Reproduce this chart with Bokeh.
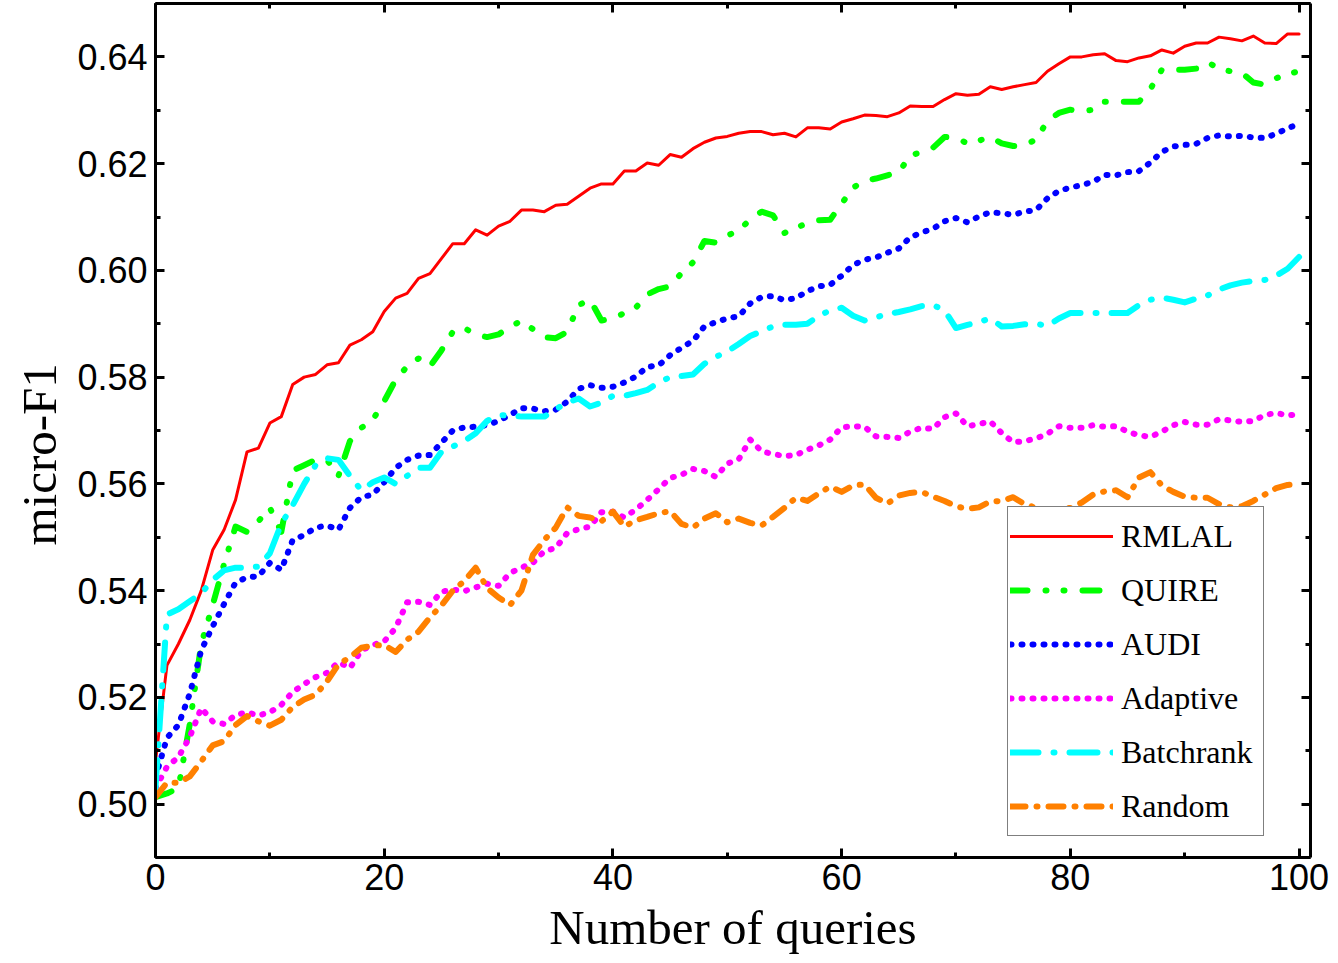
import math
from bokeh.plotting import figure
from bokeh.models import (Range1d, LinearAxis, SingleIntervalTicker, NumeralTickFormatter,
                          Legend, LegendItem, CustomJSTickFormatter, Title)
from bokeh.embed import file_html
from bokeh.resources import INLINE

queries = list(range(0, 101))

rmlal = [0.508, 0.526, 0.530, 0.5345, 0.540, 0.5476, 0.5514, 0.557, 0.566, 0.5667,
         0.5714, 0.5726, 0.5786, 0.580, 0.5805, 0.5823, 0.5827, 0.586, 0.587, 0.5885,
         0.5923, 0.5948, 0.5957, 0.5985, 0.5994, 0.6022, 0.605, 0.605, 0.6076, 0.6066,
         0.6083, 0.6092, 0.6113, 0.6113, 0.611, 0.6122, 0.6124, 0.6139, 0.6154, 0.6162,
         0.6162, 0.6186, 0.6186, 0.6201, 0.6197, 0.6217, 0.6212, 0.6228, 0.624, 0.6248,
         0.6251, 0.6257, 0.626, 0.626, 0.6254, 0.6257, 0.625, 0.6267, 0.6267, 0.6265,
         0.6278, 0.6284, 0.6291, 0.629, 0.6288, 0.6295, 0.6308, 0.6307, 0.6307, 0.632,
         0.6331, 0.6328, 0.633, 0.6344, 0.6339, 0.6344, 0.6348, 0.6352, 0.6373, 0.6387,
         0.640, 0.640, 0.6404, 0.6406, 0.6393, 0.6391, 0.6398, 0.6402, 0.6413, 0.6407,
         0.642, 0.6426, 0.6426, 0.6437, 0.6434, 0.643, 0.6439, 0.6426, 0.6425, 0.6443,
         0.6443]

quire = [0.5013, 0.502, 0.503, 0.515, 0.530, 0.5373, 0.545, 0.552, 0.551, 0.553,
         0.5555, 0.551, 0.5625, 0.5635, 0.5645, 0.5645, 0.5615, 0.568, 0.5705, 0.572,
         0.5755, 0.5795, 0.582, 0.5835, 0.582, 0.585, 0.5885, 0.5892, 0.588, 0.5875,
         0.588, 0.5895, 0.5905, 0.589, 0.5875, 0.5873, 0.5885, 0.5935, 0.5945, 0.5906,
         0.591, 0.592, 0.593, 0.5955, 0.5965, 0.597, 0.5995, 0.6015, 0.6055, 0.6052,
         0.6065, 0.6075, 0.6095, 0.611, 0.6103, 0.607, 0.608, 0.6088, 0.6094, 0.6095,
         0.6125, 0.6155, 0.6168, 0.6172, 0.6178, 0.6184, 0.6215, 0.6222, 0.623, 0.625,
         0.6248, 0.6238, 0.6243, 0.625, 0.6238, 0.6233, 0.6235, 0.6245, 0.628, 0.6295,
         0.6301, 0.6298, 0.6301, 0.6316, 0.6316, 0.6316, 0.6316, 0.634, 0.6376, 0.6376,
         0.6376, 0.6378, 0.639, 0.6378, 0.6373, 0.637, 0.6352, 0.6348, 0.636, 0.6368,
         0.6373]

audi = [0.505, 0.5124, 0.5148, 0.5207, 0.5288, 0.5333, 0.5375, 0.5415, 0.5425, 0.5427,
        0.5452, 0.5439, 0.5495, 0.5504, 0.5518, 0.5522, 0.5514, 0.5555, 0.5575, 0.558,
        0.5603, 0.563, 0.5645, 0.5653, 0.5654, 0.5677, 0.570, 0.5706, 0.5707, 0.571,
        0.5718, 0.5729, 0.5742, 0.5741, 0.5736, 0.5739, 0.5754, 0.5778, 0.5785, 0.578,
        0.5782, 0.579, 0.5801, 0.5819, 0.5822, 0.5841, 0.5855, 0.5868, 0.5895, 0.5903,
        0.591, 0.5914, 0.5938, 0.595, 0.5952, 0.5944, 0.5948, 0.5961, 0.597, 0.5973,
        0.599, 0.601, 0.602, 0.6024, 0.6033, 0.6041, 0.6062, 0.6071, 0.6078, 0.6092,
        0.6098, 0.609, 0.6101, 0.6109, 0.6107, 0.6104, 0.611, 0.6113, 0.6135, 0.6149,
        0.6155, 0.616, 0.6166, 0.6179, 0.6178, 0.6184, 0.6186, 0.6202, 0.6222, 0.6232,
        0.6235, 0.6237, 0.6248, 0.6253, 0.6251, 0.6252, 0.6249, 0.6248, 0.6256, 0.6266,
        0.6275]

adaptive = [0.503, 0.507, 0.5088, 0.5126, 0.518, 0.5155, 0.515, 0.5167, 0.5172, 0.5166,
            0.5172, 0.5186, 0.521, 0.5225, 0.5238, 0.5246, 0.5266, 0.5255, 0.5288, 0.5298,
            0.5305, 0.533, 0.5378, 0.5379, 0.5373, 0.5398, 0.5402, 0.5399, 0.5406, 0.5413,
            0.5409, 0.5433, 0.5443, 0.5452, 0.5474, 0.548, 0.5508, 0.5515, 0.552, 0.5547,
            0.5548, 0.5537, 0.5552, 0.557, 0.559, 0.5611, 0.5617, 0.5628, 0.5624, 0.5613,
            0.5638, 0.5646, 0.5683, 0.5661, 0.5656, 0.5652, 0.5654, 0.5664, 0.5672, 0.5683,
            0.5706, 0.5708, 0.5707, 0.5689, 0.5688, 0.5686, 0.5698, 0.5705, 0.5703, 0.5725,
            0.5732, 0.5708, 0.5712, 0.5717, 0.5695, 0.5678, 0.568, 0.5685, 0.5694, 0.5708,
            0.5705, 0.5705, 0.571, 0.5707, 0.5708, 0.5698, 0.5691, 0.5688, 0.5698, 0.571,
            0.5716, 0.5711, 0.5711, 0.5721, 0.5719, 0.5716, 0.5718, 0.5729, 0.5733, 0.5728,
            0.5731]

batchrank = [0.503, 0.5355, 0.5365, 0.538, 0.5395, 0.542, 0.5438, 0.5443, 0.5443, 0.5445,
             0.547, 0.5525, 0.556, 0.560, 0.5635, 0.5648, 0.5645, 0.5615, 0.5588, 0.5603,
             0.5612, 0.560, 0.5615, 0.563, 0.563, 0.566, 0.567, 0.568, 0.5695, 0.5718,
             0.5729, 0.5728, 0.5726, 0.5726, 0.5726, 0.574, 0.5752, 0.576, 0.5745, 0.5752,
             0.5765, 0.5765, 0.577, 0.5776, 0.579, 0.580, 0.5802, 0.5805, 0.5825, 0.5838,
             0.5848, 0.5862, 0.5877, 0.5886, 0.5895, 0.5898, 0.5898, 0.590, 0.5915, 0.5925,
             0.593, 0.5915, 0.5906, 0.5912, 0.5918, 0.5922, 0.5927, 0.5933, 0.5935, 0.5925,
             0.5892, 0.5898, 0.5903, 0.591, 0.5895, 0.5896, 0.5899, 0.590, 0.5896, 0.591,
             0.592, 0.592, 0.592, 0.592, 0.592, 0.592, 0.5935, 0.5945, 0.5949, 0.5945,
             0.594, 0.5947, 0.5953, 0.5964, 0.5972, 0.5977, 0.598, 0.5982, 0.599, 0.6003,
             0.6025]

random_q = [0.5013, 0.504, 0.504, 0.5052, 0.508, 0.511, 0.5118, 0.5148, 0.5165, 0.5155,
            0.5147, 0.5158, 0.5182, 0.5196, 0.5205, 0.523, 0.5262, 0.5275, 0.5293, 0.5297,
            0.5298, 0.5285, 0.5308, 0.5323, 0.535, 0.5372, 0.540, 0.5418, 0.5443, 0.5405,
            0.5387, 0.5373, 0.540, 0.5467, 0.5495, 0.5518, 0.5556, 0.554, 0.5537, 0.553,
            0.5548, 0.552, 0.5532, 0.5538, 0.5545, 0.5549, 0.5525, 0.5518, 0.5535, 0.5545,
            0.5528, 0.5535, 0.5527, 0.5522, 0.5538, 0.5555, 0.5574, 0.5568, 0.5582, 0.5595,
            0.5585, 0.5597, 0.5599, 0.5574, 0.5563, 0.5578, 0.5583, 0.5585, 0.5576, 0.5568,
            0.5558, 0.5553, 0.5556, 0.5567, 0.5568, 0.5575, 0.5562, 0.5555, 0.5552, 0.5553,
            0.5555, 0.5565, 0.558, 0.5586, 0.5588, 0.5575, 0.5612, 0.5622, 0.5597, 0.5585,
            0.5576, 0.5574, 0.5574, 0.5562, 0.5556, 0.5558, 0.5568, 0.558, 0.5592, 0.5598,
            0.560]

series_names = ["RMLAL", "QUIRE", "AUDI", "Adaptive", "Batchrank", "Random"]
series_values = [rmlal, quire, audi, adaptive, batchrank, random_q]
series_colors = ["#ff0000", "#00ff00", "#0000ff", "#ff00ff", "#00ffff", "#ff8000"]
series_dash = ["solid", "17 18 1 17 1 18", "1 10", "1 10", "28 15 1 15", "15 11 1 11"]
series_width = [3, 6, 6, 6, 6, 6]

x_ticks_interval = 20
y_ticks_interval = 0.02

p = figure(width=1338, height=963, output_backend="svg", toolbar_location=None,
           x_range=Range1d(0, 101), y_range=Range1d(0.49, 0.65),
           x_axis_location=None, y_axis_location=None,
           min_border_left=155, min_border_right=28, min_border_top=3, min_border_bottom=106)
p.xgrid.visible = False
p.ygrid.visible = False
p.outline_line_color = None
p.background_fill_color = "white"
p.border_fill_color = "white"

def style_axis(ax):
    ax.axis_line_width = 3
    ax.axis_line_color = "black"
    ax.major_tick_in = 9
    ax.major_tick_out = 0
    ax.minor_tick_in = 5
    ax.minor_tick_out = 0
    ax.major_tick_line_width = 3
    ax.minor_tick_line_width = 3
    ax.major_label_text_font = "Liberation Sans"
    ax.major_label_text_font_size = "36px"
    ax.major_label_text_color = "black"

bottom = LinearAxis(ticker=SingleIntervalTicker(interval=x_ticks_interval, num_minor_ticks=2),
                    axis_label="Number of queries")
style_axis(bottom)
bottom.major_label_standoff = 6
bottom.axis_label_standoff = 7
bottom.axis_label_text_font = "Liberation Serif"
bottom.axis_label_text_font_size = "49px"
bottom.axis_label_text_font_style = "normal"
bottom.axis_label_text_color = "black"
p.add_layout(bottom, "below")

left = LinearAxis(ticker=SingleIntervalTicker(interval=y_ticks_interval, num_minor_ticks=2),
                  formatter=NumeralTickFormatter(format="0.00"))
style_axis(left)
left.major_label_standoff = 8
p.add_layout(left, "left")

top = LinearAxis(ticker=SingleIntervalTicker(interval=x_ticks_interval, num_minor_ticks=2),
                 formatter=CustomJSTickFormatter(code="return ''"))
style_axis(top)
top.major_label_standoff = 0
top.major_label_text_font_size = "1px"
p.add_layout(top, "above")

right = LinearAxis(ticker=SingleIntervalTicker(interval=y_ticks_interval, num_minor_ticks=2),
                   formatter=CustomJSTickFormatter(code="return ''"))
style_axis(right)
right.major_label_standoff = 0
right.major_label_text_font_size = "1px"
p.add_layout(right, "right")

ytitle = Title(text="micro-F1", align="left", offset=312, standoff=15,
               text_font="Liberation Serif", text_font_size="49px",
               text_font_style="normal", text_color="black")
p.add_layout(ytitle, "left")

items = []
for name, vals, col, dash, w in zip(series_names, series_values, series_colors, series_dash, series_width):
    r = p.line(queries, vals, line_color=col, line_width=w, line_dash=dash,
               line_cap="round", line_join="round")
    items.append(LegendItem(label=name, renderers=[r]))

legend = Legend(items=items, location=(852, 21), margin=0, padding=2, spacing=0,
                glyph_width=103, glyph_height=54, label_height=54, label_width=140,
                label_standoff=8, label_text_font="Liberation Serif",
                label_text_font_size="32px", label_text_color="black",
                border_line_color="black", border_line_width=1,
                background_fill_color="white", background_fill_alpha=1.0)
p.add_layout(legend, "center")

open("out.html", "w").write(file_html(p, INLINE))
